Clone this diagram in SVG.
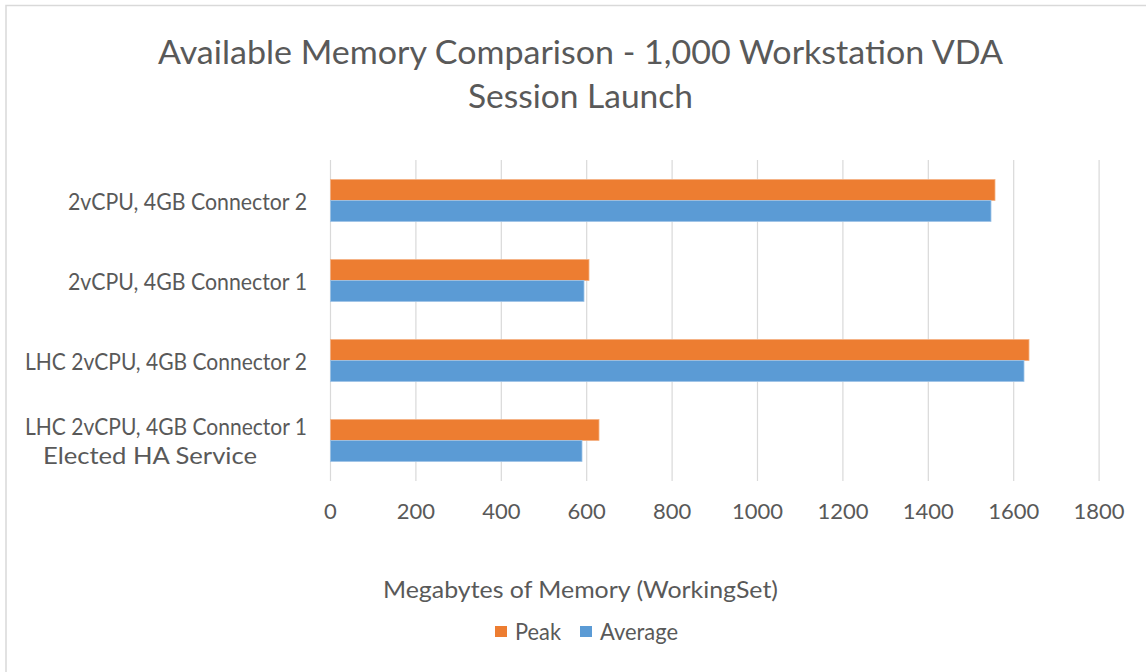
<svg xmlns="http://www.w3.org/2000/svg" width="1146" height="672" viewBox="0 0 1146 672">
<style>
  text { font-family: Lato, "Open Sans", "Liberation Sans", sans-serif; fill: #595959; }
  .title { font-size: 33px; text-anchor: middle; }
  .cat { font-size: 22.5px; text-anchor: end; }
  .tick { font-size: 22px; text-anchor: middle; }
  .axt { font-size: 22.5px; text-anchor: middle; }
  .leg { font-size: 22.5px; }
  .grid { stroke: #d9d9d9; stroke-width: 1.2; }
  .peak { fill: #ed7d31; stroke: #f4b183; stroke-width: 0.8; }
  .avg { fill: #5b9bd5; stroke: #9dc3e6; stroke-width: 0.8; }
</style>
<rect x="0" y="0" width="1146" height="672" fill="#ffffff"/>
<rect x="6" y="5.5" width="1160" height="700" fill="#ffffff" stroke="#d9d9d9" stroke-width="1.5"/>

<g id="title">
  <text class="title" x="580.5" y="64" textLength="845" lengthAdjust="spacingAndGlyphs">Available Memory Comparison - 1,000 Workstation VDA</text>
  <text class="title" x="580.5" y="107.5" textLength="225" lengthAdjust="spacingAndGlyphs">Session Launch</text>
</g>

<g id="gridlines">
  <line class="grid" x1="330.5" y1="160" x2="330.5" y2="481"/>
  <line class="grid" x1="415.9" y1="160" x2="415.9" y2="481"/>
  <line class="grid" x1="501.3" y1="160" x2="501.3" y2="481"/>
  <line class="grid" x1="586.7" y1="160" x2="586.7" y2="481"/>
  <line class="grid" x1="672.1" y1="160" x2="672.1" y2="481"/>
  <line class="grid" x1="757.5" y1="160" x2="757.5" y2="481"/>
  <line class="grid" x1="842.9" y1="160" x2="842.9" y2="481"/>
  <line class="grid" x1="928.3" y1="160" x2="928.3" y2="481"/>
  <line class="grid" x1="1013.7" y1="160" x2="1013.7" y2="481"/>
  <line class="grid" x1="1099.1" y1="160" x2="1099.1" y2="481"/>
</g>

<g id="bars">
  <rect class="peak" x="330.5" y="179.5" width="664.5" height="21"/>
  <rect class="avg" x="330.5" y="200.5" width="660.5" height="21"/>
  <rect class="peak" x="330.5" y="259.5" width="258.5" height="21"/>
  <rect class="avg" x="330.5" y="280.5" width="253.5" height="21"/>
  <rect class="peak" x="330.5" y="339.5" width="698.5" height="21"/>
  <rect class="avg" x="330.5" y="360.5" width="693.5" height="21"/>
  <rect class="peak" x="330.5" y="419.5" width="268.5" height="21"/>
  <rect class="avg" x="330.5" y="440.5" width="251.5" height="21"/>
</g>

<g id="categories">
  <text class="cat" x="307" y="209.5" textLength="239" lengthAdjust="spacingAndGlyphs">2vCPU, 4GB Connector 2</text>
  <text class="cat" x="307" y="289.5" textLength="239" lengthAdjust="spacingAndGlyphs">2vCPU, 4GB Connector 1</text>
  <text class="cat" x="307" y="369.5" textLength="282" lengthAdjust="spacingAndGlyphs">LHC 2vCPU, 4GB Connector 2</text>
  <text class="cat" x="307" y="434.5" textLength="282" lengthAdjust="spacingAndGlyphs">LHC 2vCPU, 4GB Connector 1</text>
  <text class="cat" x="257" y="463.5" textLength="214" lengthAdjust="spacingAndGlyphs">Elected HA Service</text>
</g>

<g id="ticks">
  <text class="tick" x="330.5" y="518.5">0</text>
  <text class="tick" x="415.9" y="518.5">200</text>
  <text class="tick" x="501.3" y="518.5">400</text>
  <text class="tick" x="586.7" y="518.5">600</text>
  <text class="tick" x="672.1" y="518.5">800</text>
  <text class="tick" x="757.5" y="518.5">1000</text>
  <text class="tick" x="842.9" y="518.5">1200</text>
  <text class="tick" x="928.3" y="518.5">1400</text>
  <text class="tick" x="1013.7" y="518.5">1600</text>
  <text class="tick" x="1099.1" y="518.5">1800</text>
</g>

<g id="axis-title">
  <text class="axt" x="580.5" y="597.5" textLength="395" lengthAdjust="spacingAndGlyphs">Megabytes of Memory (WorkingSet)</text>
</g>

<g id="legend">
  <rect x="495" y="626" width="12" height="11" fill="#ed7d31"/>
  <text class="leg" x="515" y="639.5" textLength="46" lengthAdjust="spacingAndGlyphs">Peak</text>
  <rect x="580" y="626" width="12" height="11" fill="#5b9bd5"/>
  <text class="leg" x="600" y="639.5" textLength="78" lengthAdjust="spacingAndGlyphs">Average</text>
</g>
</svg>
